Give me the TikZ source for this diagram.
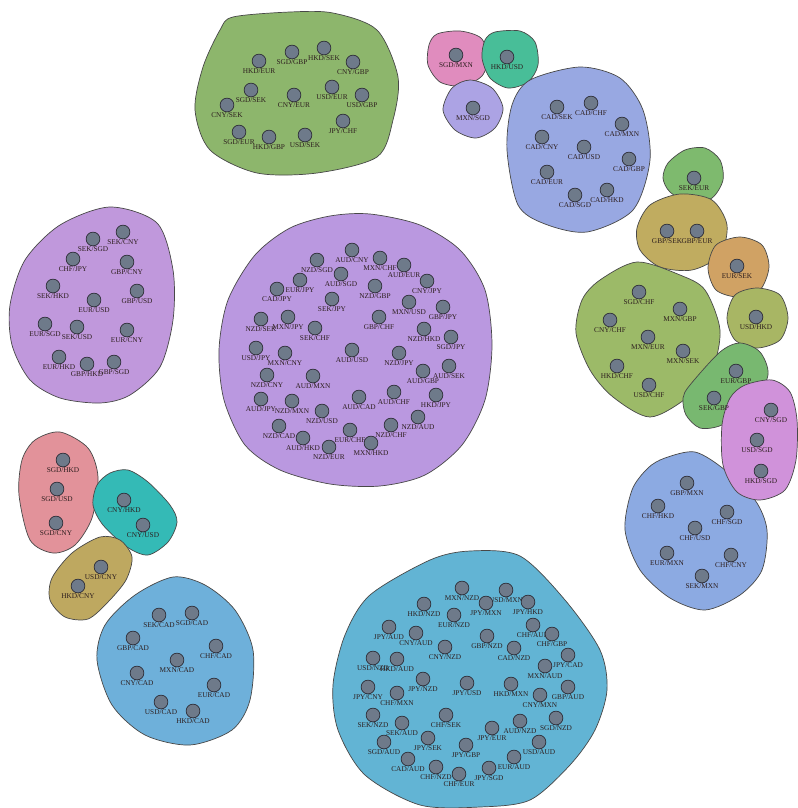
\documentclass[tikz,border=0pt]{standalone}
\usepackage{fontspec}
\setmainfont{Liberation Serif}
\usepackage{xcolor}
\definecolor{fxedge}{RGB}{72,72,72}
\definecolor{fxdot}{RGB}{110,122,138}
\definecolor{fxdotline}{RGB}{45,45,55}
\definecolor{fxtext}{RGB}{45,30,30}
\definecolor{fxgreen}{RGB}{141,182,108}
\definecolor{fxpink}{RGB}{224,140,190}
\definecolor{fxteal}{RGB}{72,190,152}
\definecolor{fxlavender}{RGB}{172,163,228}
\definecolor{fxperiwinkle}{RGB}{152,168,226}
\definecolor{fxleaf}{RGB}{126,186,110}
\definecolor{fxkhaki}{RGB}{192,172,96}
\definecolor{fxtan}{RGB}{208,162,100}
\definecolor{fxolive}{RGB}{168,182,100}
\definecolor{fxmoss}{RGB}{156,186,104}
\definecolor{fxfern}{RGB}{120,184,112}
\definecolor{fxlilac}{RGB}{208,146,218}
\definecolor{fxsky}{RGB}{140,170,226}
\definecolor{fxviolet}{RGB}{192,152,220}
\definecolor{fxamethyst}{RGB}{186,152,224}
\definecolor{fxrose}{RGB}{226,146,154}
\definecolor{fxcyan}{RGB}{52,186,182}
\definecolor{fxsand}{RGB}{190,168,96}
\definecolor{fxsteel}{RGB}{110,176,218}
\definecolor{fxocean}{RGB}{98,180,212}

\begin{document}
\begin{tikzpicture}[
  x=0.25mm, y=-0.25mm,
  blob/.style={draw=fxedge, line width=0.5pt},
  dot/.style={circle, draw=fxdotline, fill=fxdot, line width=0.5pt,
              minimum size=9.8pt, inner sep=0pt, label distance=3pt},
  lbl/.style={font=\fontsize{5.2}{6}\selectfont, text=fxtext, inner sep=0pt}
]
  \useasboundingbox (0,0) rectangle (798,808);

  % Cluster outlines
  \draw[blob, fill=fxgreen] plot[smooth cycle] coordinates {(233,17) (290,12) (333,13) (377,30) (398,77) (393,120) (377,157) (317,173) (257,173) (210,150) (195,110) (203,67) (220,30)};
  \draw[blob, fill=fxpink] plot[smooth cycle] coordinates {(437,34) (460,31) (481,38) (488,57) (482,76) (462,86) (440,82) (428,65) (429,45)};
  \draw[blob, fill=fxteal] plot[smooth cycle] coordinates {(495,32) (520,31) (535,42) (538,65) (528,82) (508,88) (490,78) (482,58) (485,40)};
  \draw[blob, fill=fxlavender] plot[smooth cycle] coordinates {(470,80) (492,88) (503,108) (495,128) (476,138) (455,130) (443,110) (452,88)};
  \draw[blob, fill=fxperiwinkle] plot[smooth cycle] coordinates {(530,80) (580,67) (620,78) (643,110) (650,160) (633,210) (587,232) (545,224) (518,205) (507,150) (512,105)};
  \draw[blob, fill=fxleaf] plot[smooth cycle] coordinates {(668,163) (685,150) (705,148) (720,160) (723,180) (712,198) (690,203) (670,192) (663,178)};
  \draw[blob, fill=fxkhaki] plot[smooth cycle] coordinates {(650,205) (680,194) (712,200) (727,225) (720,255) (692,270) (660,267) (640,250) (637,228)};
  \draw[blob, fill=fxtan] plot[smooth cycle] coordinates {(716,245) (740,237) (762,245) (769,267) (760,290) (738,297) (716,290) (708,268)};
  \draw[blob, fill=fxolive] plot[smooth cycle] coordinates {(735,295) (757,288) (780,295) (788,318) (780,340) (757,348) (735,340) (727,318)};
  \draw[blob, fill=fxmoss] plot[smooth cycle] coordinates {(600,280) (637,262) (680,275) (705,290) (720,330) (712,370) (688,397) (650,417) (613,397) (590,370) (576,333) (582,300)};
  \draw[blob, fill=fxfern] plot[smooth cycle] coordinates {(690,385) (720,352) (740,343) (760,352) (768,375) (752,405) (722,425) (700,428) (686,415) (683,398)};
  \draw[blob, fill=fxsky] plot[smooth cycle] coordinates {(665,458) (695,452) (725,470) (755,500) (767,530) (762,570) (740,595) (705,610) (670,598) (640,570) (625,530) (632,490) (648,468)};
  \draw[blob, fill=fxlilac] plot[smooth cycle] coordinates {(745,385) (772,380) (790,392) (797,420) (796,460) (785,490) (760,500) (737,492) (723,465) (722,425) (730,398)};
  \draw[blob, fill=fxviolet] plot[smooth cycle] coordinates {(110,207) (157,223) (173,270) (173,320) (160,367) (130,395) (100,403) (60,398) (30,380) (12,345) (10,305) (25,260) (60,225)};
  \draw[blob, fill=fxamethyst] plot[smooth cycle] coordinates {(330,216) (370,214) (420,225) (460,250) (485,290) (492,345) (485,400) (462,445) (425,475) (380,486) (330,484) (280,470) (245,445) (224,400) (219,350) (228,300) (255,255) (290,228)};
  \draw[blob, fill=fxrose] plot[smooth cycle] coordinates {(60,432) (88,448) (98,477) (92,518) (75,545) (53,553) (30,540) (19,495) (22,460) (35,440)};
  \draw[blob, fill=fxcyan] plot[smooth cycle] coordinates {(110,473) (128,470) (148,482) (170,505) (177,522) (168,542) (148,555) (127,547) (103,525) (93,505) (97,485)};
  \draw[blob, fill=fxsand] plot[smooth cycle] coordinates {(100,537) (120,540) (132,557) (126,580) (108,602) (88,619) (65,617) (50,600) (52,578) (72,553)};
  \draw[blob, fill=fxsteel] plot[smooth cycle] coordinates {(173,577) (205,585) (235,610) (253,650) (250,700) (232,730) (190,745) (145,735) (112,705) (97,660) (105,625) (135,595)};
  \draw[blob, fill=fxocean] plot[smooth cycle] coordinates {(430,560) (470,551) (520,556) (565,600) (600,650) (607,690) (595,730) (570,765) (530,800) (480,807) (420,805) (365,775) (338,730) (333,685) (345,635) (370,595)};

  % Currency pairs, cluster by cluster
  \foreach \x/\y/\a/\b in {259/61/HKD/EUR, 292/52/SGD/GBP, 324/48/HKD/SEK, 353/62/CNY/GBP,
      251/90/SGD/SEK, 294/95/CNY/EUR, 332/87/USD/EUR, 362/95/USD/GBP, 227/105/CNY/SEK,
      343/121/JPY/CHF, 239/132/SGD/EUR, 269/137/HKD/GBP, 305/135/USD/SEK}
    \node[dot, label={[lbl]below:\a/\b}] (\a\b) at (\x,\y) {};
  \foreach \x/\y/\a/\b in {456/55/SGD/MXN, 507/57/HKD/USD, 473/108/MXN/SGD}
    \node[dot, label={[lbl]below:\a/\b}] (\a\b) at (\x,\y) {};
  \foreach \x/\y/\a/\b in {557/107/CAD/SEK, 591/103/CAD/CHF, 622/124/CAD/MXN, 542/137/CAD/CNY,
      584/147/CAD/USD, 629/159/CAD/GBP, 547/172/CAD/EUR, 575/195/CAD/SGD, 607/190/CAD/HKD}
    \node[dot, label={[lbl]below:\a/\b}] (\a\b) at (\x,\y) {};
  \foreach \x/\y/\a/\b in {694/178/SEK/EUR, 667/231/GBP/SEK, 697/231/GBP/EUR, 737/266/EUR/SEK,
      756/317/USD/HKD}
    \node[dot, label={[lbl]below:\a/\b}] (\a\b) at (\x,\y) {};
  \foreach \x/\y/\a/\b in {639/292/SGD/CHF, 680/309/MXN/GBP, 610/320/CNY/CHF, 648/337/MXN/EUR,
      683/351/MXN/SEK, 617/366/HKD/CHF, 649/385/USD/CHF}
    \node[dot, label={[lbl]below:\a/\b}] (\a\b) at (\x,\y) {};
  \foreach \x/\y/\a/\b in {736/371/EUR/GBP, 714/398/SEK/GBP, 771/410/CNY/SGD, 757/440/USD/SGD,
      761/471/HKD/SGD}
    \node[dot, label={[lbl]below:\a/\b}] (\a\b) at (\x,\y) {};
  \foreach \x/\y/\a/\b in {687/483/GBP/MXN, 658/506/CHF/HKD, 727/512/CHF/SGD, 695/528/CHF/USD,
      667/553/EUR/MXN, 731/555/CHF/CNY, 702/576/SEK/MXN}
    \node[dot, label={[lbl]below:\a/\b}] (\a\b) at (\x,\y) {};
  \foreach \x/\y/\a/\b in {123/232/SEK/CNY, 93/239/SEK/SGD, 73/259/CHF/JPY, 127/262/GBP/CNY,
      53/286/SEK/HKD, 137/291/GBP/USD, 94/300/EUR/USD, 45/324/EUR/SGD, 77/327/SEK/USD,
      127/330/EUR/CNY, 59/357/EUR/HKD, 87/364/GBP/HKD, 114/362/GBP/SGD}
    \node[dot, label={[lbl]below:\a/\b}] (\a\b) at (\x,\y) {};
  \foreach \x/\y/\a/\b in {352/250/AUD/CNY, 380/258/MXN/CHF, 404/265/AUD/EUR, 317/260/NZD/SGD,
      341/274/AUD/SGD, 300/280/EUR/JPY, 375/286/NZD/GBP, 427/281/CNY/JPY, 277/289/CAD/JPY,
      332/299/SEK/JPY, 409/302/MXN/USD, 443/307/GBP/JPY, 379/317/GBP/CHF, 261/319/NZD/SEK,
      288/317/MXN/JPY, 315/328/SEK/CHF, 424/329/NZD/HKD, 451/337/SGD/JPY, 256/348/USD/JPY,
      285/353/MXN/CNY, 352/350/AUD/USD, 399/353/NZD/JPY, 449/366/AUD/SEK, 423/371/AUD/GBP,
      267/375/NZD/CNY, 313/376/AUD/MXN, 261/399/AUD/JPY, 292/401/NZD/MXN, 359/397/AUD/CAD,
      394/392/AUD/CHF, 436/395/HKD/JPY, 322/411/NZD/USD, 418/417/NZD/AUD, 279/426/NZD/CAD,
      391/425/NZD/CHF, 350/430/EUR/CHF, 303/438/AUD/HKD, 371/443/MXN/HKD, 329/447/NZD/EUR}
    \node[dot, label={[lbl]below:\a/\b}] (\a\b) at (\x,\y) {};
  \foreach \x/\y/\a/\b in {63/460/SGD/HKD, 57/489/SGD/USD, 56/523/SGD/CNY, 124/500/CNY/HKD,
      143/525/CNY/USD, 101/567/USD/CNY, 78/586/HKD/CNY}
    \node[dot, label={[lbl]below:\a/\b}] (\a\b) at (\x,\y) {};
  \foreach \x/\y/\a/\b in {159/615/SEK/CAD, 192/613/SGD/CAD, 133/638/GBP/CAD, 216/646/CHF/CAD,
      177/660/MXN/CAD, 137/673/CNY/CAD, 214/685/EUR/CAD, 161/702/USD/CAD, 193/711/HKD/CAD}
    \node[dot, label={[lbl]below:\a/\b}] (\a\b) at (\x,\y) {};
  \foreach \x/\y/\a/\b in {462/588/MXN/NZD, 424/604/HKD/NZD, 454/615/EUR/NZD, 389/627/JPY/AUD,
      416/633/CNY/AUD, 445/647/CNY/NZD, 373/658/USD/NZD, 397/659/HKD/AUD, 423/679/JPY/NZD,
      467/683/JPY/USD, 368/687/JPY/CNY, 397/693/CHF/MXN, 373/715/SEK/NZD, 446/715/CHF/SEK,
      402/723/SEK/AUD, 384/742/SGD/AUD, 428/738/JPY/SEK, 466/745/JPY/GBP, 408/759/CAD/AUD,
      436/767/CHF/NZD, 459/774/CHF/EUR, 506/590/USD/MXN, 486/603/JPY/MXN, 528/602/JPY/HKD,
      533/625/CHF/AUD, 552/634/CHF/GBP, 487/636/GBP/NZD, 514/648/CAD/NZD, 568/655/JPY/CAD,
      545/666/MXN/AUD, 568/687/GBP/AUD, 511/684/HKD/MXN, 540/695/CNY/MXN, 556/718/SGD/NZD,
      520/721/AUD/NZD, 492/728/JPY/EUR, 539/742/USD/AUD, 514/757/EUR/AUD, 489/768/JPY/SGD}
    \node[dot, label={[lbl]below:\a/\b}] (\a\b) at (\x,\y) {};
\end{tikzpicture}
\end{document}
